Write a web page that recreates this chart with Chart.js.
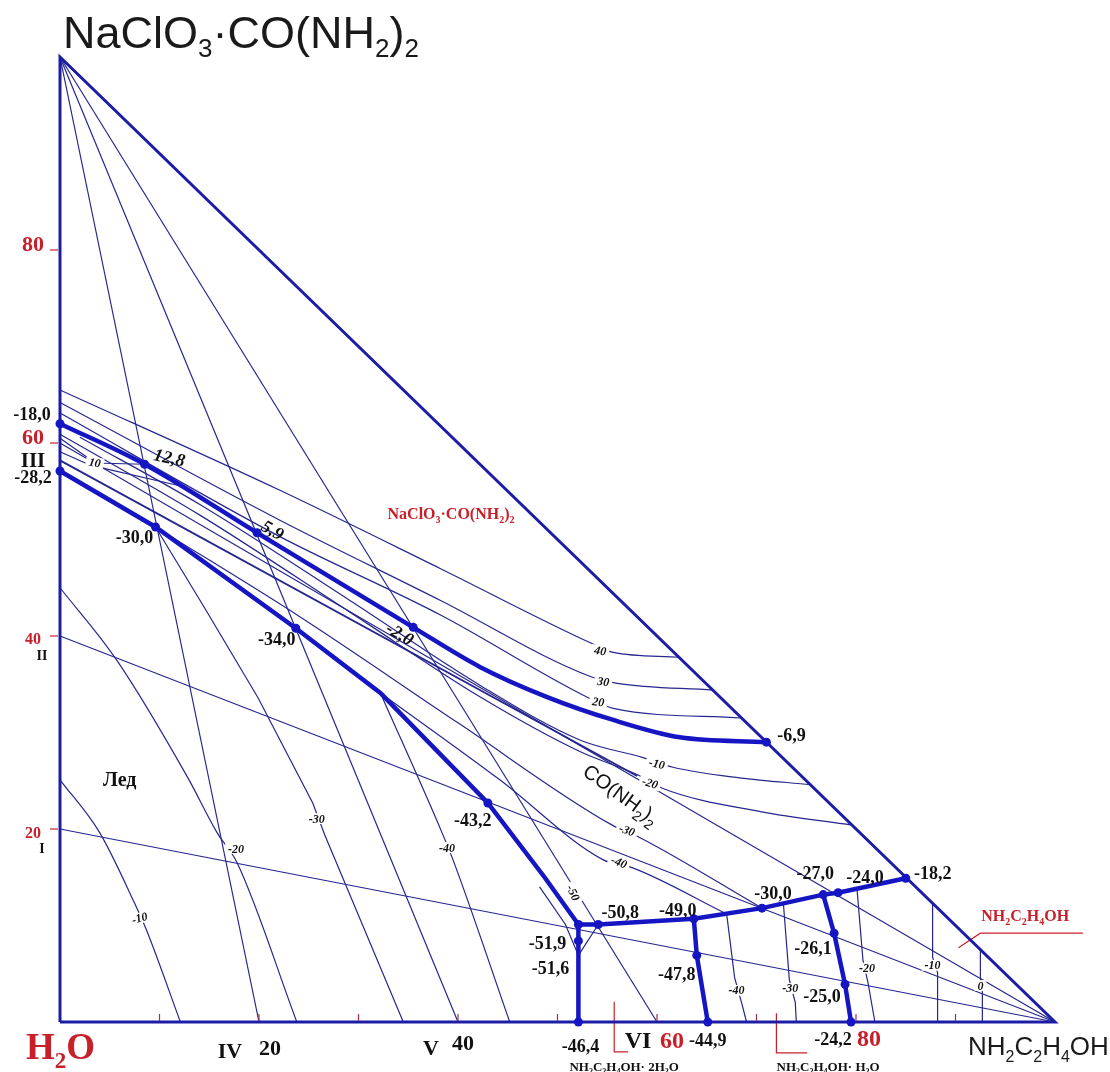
<!DOCTYPE html>
<html>
<head>
<meta charset="utf-8">
<script src="https://cdn.jsdelivr.net/npm/chart.js@4/dist/chart.umd.min.js"></script>
<style>
  html, body { margin: 0; padding: 0; background: #fff; }
  canvas { display: block; }
</style>
</head>
<body>
<canvas id="diagram" width="1110" height="1072"></canvas>
<script>
// Composition coordinates: x = mass % NH2C2H4OH, y = mass % NaClO3·CO(NH2)2, rest is H2O.

// Triangle of the system
const frame = [[0, 0], [100, 0], [0, 100], [0, 0]];

// Fields boundaries (crystallisation curves)
const boundaryCompound = [[0, 62.0], [8.5, 57.8], [19.8, 50.7], [35.5, 40.9], [42.2, 36.8], [48.9, 33.7], [55.6, 31.3], [62.3, 29.5], [71.0, 29.0]];
const boundaryIce = [[0, 57.1], [9.6, 51.3], [23.7, 40.8], [32.2, 34.1], [43.0, 22.7], [48.7, 15.0], [52.1, 10.1]];
const boundaryAmine = [[52.1, 10.1], [54.1, 10.1], [63.7, 10.7], [70.55, 11.8], [76.7, 13.2], [78.2, 13.4], [85.0, 14.9]];
const boundaryDihydrate = [[52.1, 10.1], [52.1, 8.4], [52.1, 0]];
const boundaryHydrates = [[63.7, 10.7], [64.0, 6.9], [65.1, 0]];
const boundaryMonohydrate = [[76.7, 13.2], [77.8, 9.2], [78.9, 3.9], [79.5, 0]];

// Invariant / nonvariant points with their temperatures, °C
const pointX = [0, 8.5, 19.8, 35.5, 71.0, 0, 9.6, 23.7, 43.0, 54.1, 52.1, 52.1, 63.7, 64.0, 52.1, 65.1, 70.55, 76.7, 78.2, 85.0, 77.8, 78.9, 79.5];
const pointY = [62.0, 57.8, 50.7, 40.9, 29.0, 57.1, 51.3, 40.8, 22.7, 10.1, 8.4, 6.9, 10.7, 6.9, 0, 0, 11.8, 13.2, 13.4, 14.9, 9.2, 3.9, 0];
const pointT = ['-18,0', '12,8', '5,9', '-2,0', '-6,9', '-28,2', '-30,0', '-34,0', '-43,2', '-50,8', '-51,9', '-51,6', '-49,0', '-47,8', '-46,4', '-44,9', '-30,0', '-27,0', '-24,0', '-18,2', '-26,1', '-25,0', '-24,2'];
const pointDot = [1, 1, 1, 1, 1, 1, 1, 1, 1, 1, 1, 0, 1, 1, 1, 1, 1, 1, 1, 1, 1, 1, 1];
const extraDot = [[52.1, 10.1]];

// Sections (rays) and axis ticks
const sectionsFromApex = [20, 40, 60];      // IV, V, VI on the H2O – NH2C2H4OH side
const sectionsFromAmine = [20, 40, 60];     // I, II, III on the H2O – salt side
const leftTicks = [20, 40, 60, 80];
const bottomTicks = [20, 40, 60, 80];
const bottomMinorTicks = [10, 20, 30, 40, 50, 60, 70, 80, 90];
const leftSections = ['I', 'II', 'III'];
const bottomSections = ['IV', 'V', 'VI'];

// Isotherms, NaClO3·CO(NH2)2 field
const iso40 = [[0, 65.5], [22.1, 55.1], [38.2, 47.0], [53.3, 39.3], [55.6, 38.3], [62.2, 37.8]];
const iso30 = [[0, 64.2], [22.1, 52.0], [38.2, 43.7], [53.3, 35.8], [56.0, 35.1], [65.6, 34.4]];
const iso20 = [[0, 63.1], [22.1, 50.3], [38.2, 42.2], [53.1, 33.6], [55.6, 32.5], [68.5, 31.5]];
// Isotherms, CO(NH2)2 field
const iso10a = [[0, 60.5], [2.9, 58.4]];
const iso10b = [[0, 59.1], [2.6, 57.9]];
const iso10c = [[4.3, 57.9], [8.5, 57.8]];
const iso10d = [[4.3, 57.4], [11.9, 55.6]];
const isoUm10 = [[2.0, 60.6], [14.1, 53.6], [29.1, 43.7], [42.2, 34.9], [52.3, 29.2], [58.6, 27.4], [61.6, 26.4], [68.3, 25.3], [75.4, 24.6]];
const isoUm20 = [[0, 60.9], [14.1, 52.5], [29.1, 42.5], [42.2, 33.7], [52.3, 28.0], [58.1, 25.6], [60.6, 24.2], [70.4, 21.8], [79.6, 20.4]];
const isoUmid = [[0, 58.2], [58.0, 25.5]];
const isoUm30 = [[9.6, 51.3], [24.1, 42.0], [40.0, 31.0], [55.5, 20.4], [58.3, 19.1], [70.55, 11.8]];
const isoUm40 = [[32.2, 34.1], [44.2, 25.1], [54.6, 16.8], [57.5, 16.0], [67.0, 11.2]];
// Isotherms, ice field
const isoIm10 = [[0, 25.1], [4.0, 19.6], [7.5, 12.3], [8.7, 9.5], [12.1, 0]];
const isoIm20 = [[0, 45.0], [5.7, 37.5], [12.8, 25.4], [15.8, 19.6], [17.8, 16.5], [23.8, 0]];
const isoIm30 = [[9.6, 51.3], [14.6, 42.8], [19.9, 33.6], [25.4, 22.7], [26.6, 19.4], [34.5, 0]];
const isoIm40 = [[32.2, 34.1], [38.4, 19.6], [39.5, 16.8], [45.2, 0]];
const isoEutectic = [[48.2, 14.0], [50.8, 10.1], [52.1, 6.9], [54.1, 10.1]];
// Isotherms, hydrate and amine fields
const isoHm40 = [[67.0, 11.2], [67.8, 4.6], [68.5, 2.0], [69.0, 0]];
const isoHm30 = [[72.7, 12.3], [73.3, 4.4], [73.9, 2.0], [74.0, 0]];
const isoHm20 = [[80.1, 13.8], [80.7, 6.4], [81.2, 4.1], [81.9, 0]];
const isoHm10 = [[87.7, 12.3], [87.7, 6.7], [88.2, 5.1], [88.2, 0]];
const isoH0 = [[92.5, 7.5], [92.5, 4.6], [92.7, 3.3], [92.7, 0]];

// Leader lines for the field captions
const leaderAmine = [[102.8, 9.2], [92.5, 9.2], [90.3, 7.7]];
const leaderDihydrate = [[55.7, 2.1], [55.7, -3.1], [57.1, -3.1]];
const leaderMonohydrate = [[72.0, 0.9], [72.0, -3.2], [75.1, -3.2]];

// Isotherm captions: text, x, y
const isoLabelText = ['40', '30', '20', '10', '-10', '-20', '-30', '-40', '-50', '-10', '-20', '-30', '-40', '-40', '-30', '-20', '-10', '0'];
const isoLabelX = [54.3, 54.6, 54.1, 3.5, 60.0, 59.3, 57.0, 56.2, 51.6, 8.0, 17.7, 25.8, 38.9, 68.0, 73.4, 81.1, 87.7, 92.5];
const isoLabelY = [38.5, 35.3, 33.2, 58.0, 26.8, 24.8, 19.9, 16.6, 13.4, 10.8, 18.0, 21.1, 18.1, 3.3, 3.5, 5.6, 5.9, 3.8];

// ---------- styles ----------
const THIN = '#26268f';
const FRAME = '#1c1ca6';
const THICK = '#1515c4';
const RED = '#c8202a';
const INK = '#111111';
const SERIF = '"Liberation Serif", "Times New Roman", serif';
const SANS = '"Liberation Sans", Arial, sans-serif';

const pointLabelOffset = [[-28, -10], [25, -7], [16, -3], [-13, 6], [25, -7], [-27, 6], [-21, 10], [-19, 10], [-15, 17], [22, -13],
  [-31, 2], [-28, 12], [-16, -9], [-20, 18], [2, 24], [0, 18], [11, -15], [-8, -22], [27, -16], [27, -6], [-21, 14], [-23, 11], [-18, 17]];
const pointLabelStyle = { 1: { italic: true, rot: 12 }, 2: { italic: true, rot: 30 }, 3: { italic: true, rot: 30 } };
const isoLabelRot = [8, 8, 8, 10, 12, 18, 20, 22, 65, -15, 0, 0, 0, 0, 0, 0, 0, 0];

const toXY = pts => pts.map(([x, y]) => ({ x, y }));

function lineSet(pts, width, color, smooth, order) {
  return {
    data: toXY(pts), showLine: true, pointRadius: 0, pointHoverRadius: 0,
    borderWidth: width, borderColor: color, backgroundColor: color, fill: false,
    cubicInterpolationMode: smooth ? 'monotone' : 'default', tension: 0,
    order: order, clip: false
  };
}

const thinSets = [];
sectionsFromApex.forEach(v => thinSets.push(lineSet([[0, 100], [v, 0]], 1.2, THIN, false, 3)));
sectionsFromAmine.forEach(v => thinSets.push(lineSet([[100, 0], [0, v]], 1.2, THIN, false, 3)));
[iso40, iso30, iso20, isoUm10, isoUm20, isoUm30, isoUm40, isoIm10, isoIm20, isoIm40].forEach(p => thinSets.push(lineSet(p, 1.2, THIN, true, 3)));
[iso10a, iso10b, iso10c, iso10d, isoIm30, isoEutectic, isoHm40, isoHm30, isoHm20, isoHm10, isoH0].forEach(p => thinSets.push(lineSet(p, 1.2, THIN, false, 3)));
thinSets.push(lineSet(isoUmid, 1.8, THIN, false, 3));

const leaderSets = [leaderAmine, leaderDihydrate, leaderMonohydrate].map(p => lineSet(p, 1.2, RED, false, 3));

// empty layer: isotherm captions are painted here, between thin and thick lines
const captionLayer = { data: [], showLine: false, pointRadius: 0, order: 2, captionLayer: true };

const thickSets = [
  lineSet(boundaryCompound, 4.5, THICK, true, 1),
  lineSet(boundaryIce, 4.5, THICK, false, 1),
  lineSet(boundaryAmine, 4.5, THICK, false, 1),
  lineSet(boundaryDihydrate, 4.5, THICK, false, 1),
  lineSet(boundaryHydrates, 4.5, THICK, false, 1),
  lineSet(boundaryMonohydrate, 4.5, THICK, false, 1),
  lineSet(frame, 3, FRAME, false, 1)
];

const dotPts = pointX.map((x, i) => ({ x, y: pointY[i] })).filter((p, i) => pointDot[i]).concat(toXY(extraDot));
const dotSet = {
  data: dotPts, showLine: false, pointRadius: 4.5, pointHoverRadius: 4.5,
  pointBackgroundColor: THICK, pointBorderWidth: 0, order: 0, clip: false
};

function parseRich(s) {
  const out = [];
  for (let i = 0; i < s.length; i++) {
    if (s[i] === '_') { out.push([s[i + 1], true]); i++; }
    else if (out.length && !out[out.length - 1][1]) out[out.length - 1][0] += s[i];
    else out.push([s[i], false]);
  }
  return out;
}

function drawRich(ctx, s, x, y, o) {
  const parts = parseRich(s);
  const fam = o.sans ? SANS : SERIF;
  const subScale = o.subScale || 0.62;
  const font = sub => `${o.italic ? 'italic ' : ''}${o.bold ? 'bold ' : ''}${sub ? Math.round(o.size * subScale) : o.size}px ${fam}`;
  let w = 0;
  const widths = parts.map(([t, sub]) => { ctx.font = font(sub); const m = ctx.measureText(t).width; w += m; return m; });
  ctx.save();
  ctx.translate(x, y);
  if (o.rot) ctx.rotate(o.rot * Math.PI / 180);
  let x0 = o.align === 'left' ? 0 : o.align === 'right' ? -w : -w / 2;
  const base = o.alphabetic ? 0 : o.size * 0.35;
  if (o.bg) {
    ctx.fillStyle = '#ffffff';
    ctx.fillRect(x0 - 3, base - o.size * 0.78, w + 6, o.size * 0.9);
  }
  ctx.fillStyle = o.color || INK;
  ctx.textBaseline = 'alphabetic';
  parts.forEach(([t, sub], i) => {
    ctx.font = font(sub);
    ctx.fillText(t, x0, base + (sub ? o.size * (o.subDrop || 0.22) : 0));
    x0 += widths[i];
  });
  ctx.restore();
}

const diagramText = {
  id: 'diagramText',
  afterDatasetDraw(chart, args) {
    if (!chart.data.datasets[args.index].captionLayer) return;
    const ctx = chart.ctx, sx = chart.scales.x, sy = chart.scales.y;
    isoLabelText.forEach((t, i) => drawRich(ctx, t, sx.getPixelForValue(isoLabelX[i]), sy.getPixelForValue(isoLabelY[i]),
      { size: 12, bold: true, italic: true, rot: isoLabelRot[i], bg: true }));
  },
  afterDatasetsDraw(chart) {
    const ctx = chart.ctx, sx = chart.scales.x, sy = chart.scales.y;
    const px = v => sx.getPixelForValue(v), py = v => sy.getPixelForValue(v);
    ctx.save();
    // axis ticks
    ctx.strokeStyle = RED; ctx.lineWidth = 1.2;
    leftTicks.forEach(v => { ctx.beginPath(); ctx.moveTo(px(0) - 10, py(v)); ctx.lineTo(px(0) - 2, py(v)); ctx.stroke(); });
    ctx.strokeStyle = '#a03050';
    bottomMinorTicks.forEach(v => { ctx.beginPath(); ctx.moveTo(px(v), py(0) - 1); ctx.lineTo(px(v), py(0) - 8); ctx.stroke(); });
    ctx.restore();

    // left axis: values and sections
    const leftStyle = { 80: [22, -7], 60: [22, -7], 40: [16, 2], 20: [16, 3] };
    leftTicks.forEach(v => drawRich(ctx, String(v), px(0) - 27, py(v) + leftStyle[v][1], { size: leftStyle[v][0], bold: true, color: RED }));
    const leftSecStyle = [[14, 26, -19], [14, 26, -19], [21, 27, -17]];
    leftSections.forEach((t, i) => drawRich(ctx, t, px(0) - leftSecStyle[i][1] + (i < 2 ? 8 : 0), py(sectionsFromAmine[i]) - leftSecStyle[i][2], { size: leftSecStyle[i][0], bold: true }));

    // bottom axis: values and sections
    const bottomStyle = { 20: [22, 11, 25, INK], 40: [22, 5, 20, INK], 60: [24, 15, 18, RED], 80: [24, 13, 16, RED] };
    bottomTicks.forEach(v => { const s = bottomStyle[v]; drawRich(ctx, String(v), px(v) + s[1], py(0) + s[2], { size: s[0], bold: true, color: s[3] }); });
    const bottomSecStyle = [[22, -29, 28], [22, -27, 25], [24, -19, 18]];
    bottomSections.forEach((t, i) => { const s = bottomSecStyle[i]; drawRich(ctx, t, px(sectionsFromApex[i]) + s[1], py(0) + s[2], { size: s[0], bold: true }); });

    // temperatures of the points
    pointT.forEach((t, i) => {
      const st = pointLabelStyle[i] || {};
      drawRich(ctx, t, px(pointX[i]) + pointLabelOffset[i][0], py(pointY[i]) + pointLabelOffset[i][1],
        { size: 18, bold: true, italic: st.italic, rot: st.rot });
    });

    // component names and field captions
    drawRich(ctx, 'NaClO_3·CO(NH_2)_2', px(0) + 3, py(100) - 9, { size: 45, sans: true, align: 'left', alphabetic: true, subDrop: 0.2, subScale: 0.58, color: '#1a1a1a' });
    drawRich(ctx, 'H_2O', px(0) - 34, py(0) + 37, { size: 37, bold: true, align: 'left', alphabetic: true, color: RED, subDrop: 0.25 });
    drawRich(ctx, 'NH_2C_2H_4OH', px(100) - 87, py(0) + 33, { size: 26, sans: true, align: 'left', alphabetic: true, color: '#1a1a1a', subScale: 0.6, subDrop: 0.25 });
    drawRich(ctx, 'NaClO_3·CO(NH_2)_2', px(39.3), py(52.7), { size: 16, bold: true, color: RED });
    drawRich(ctx, 'NH_2C_2H_4OH', px(97.0), py(11.0), { size: 16, bold: true, color: RED });
    drawRich(ctx, 'CO(NH_2)_2', px(56.4), py(23.6), { size: 20, sans: true, rot: 36, subScale: 0.7, subDrop: 0.3 });
    drawRich(ctx, 'Лед', px(6.0), py(25.2), { size: 20, bold: true });
    drawRich(ctx, 'NH_2C_2H_4OH· 2H_2O', px(56.7), py(-4.6), { size: 13, bold: true });
    drawRich(ctx, 'NH_2C_2H_4OH· H_2O', px(77.2), py(-4.6), { size: 13, bold: true });
  }
};

const datasets = [dotSet, ...thickSets, captionLayer, ...thinSets, ...leaderSets];

new Chart(document.getElementById('diagram'), {
  type: 'scatter',
  data: { datasets },
  options: {
    responsive: false,
    animation: false,
    devicePixelRatio: 1,
    layout: { padding: { left: 60, right: 55, top: 57, bottom: 50 } },
    scales: {
      x: { type: 'linear', min: 0, max: 100, display: false },
      y: { type: 'linear', min: 0, max: 100, display: false }
    },
    plugins: { legend: { display: false }, tooltip: { enabled: false } },
    events: []
  },
  plugins: [diagramText]
});
</script>
</body>
</html>
